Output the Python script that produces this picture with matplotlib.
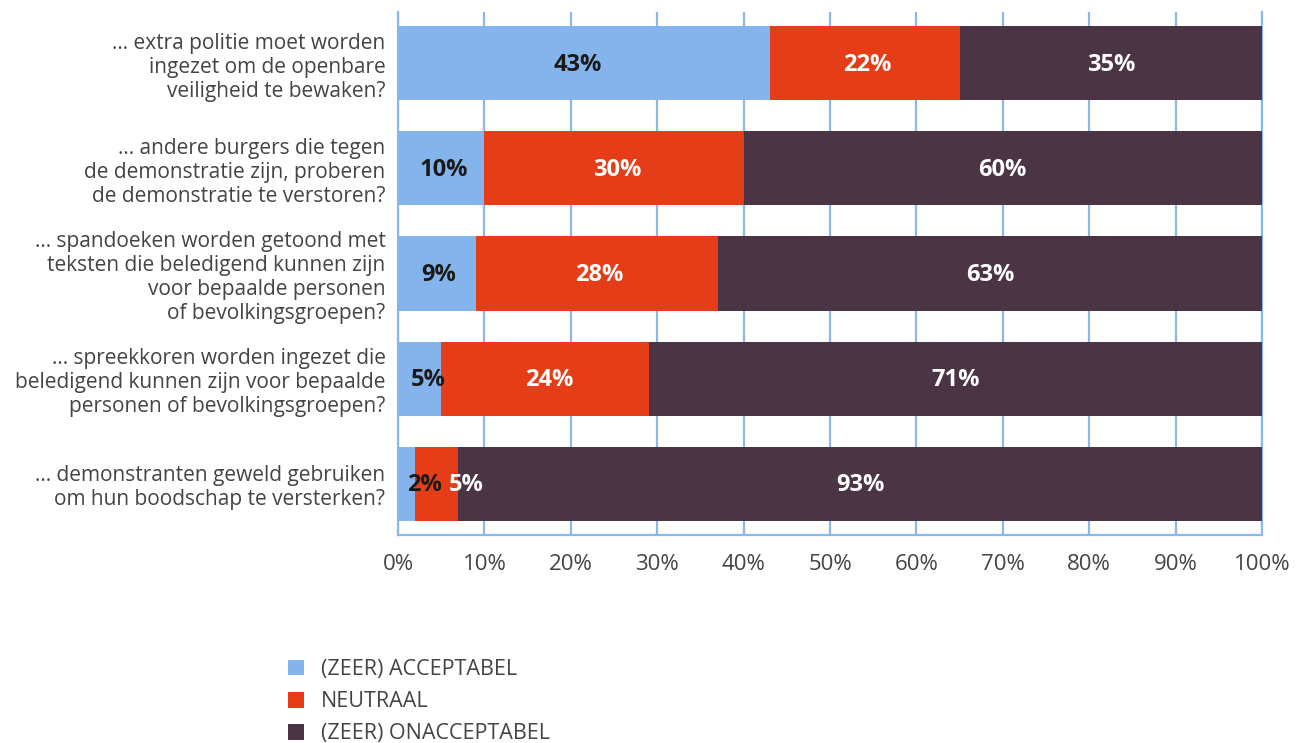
import matplotlib
matplotlib.use("Agg")
import matplotlib.pyplot as plt
import numpy as np

plt.rcParams['font.family'] = ['Open Sans', 'DejaVu Sans']

# --- data ---
questions = [
    "... extra politie moet worden\ningezet om de openbare\nveiligheid te bewaken?",
    "... andere burgers die tegen\nde demonstratie zijn, proberen\nde demonstratie te verstoren?",
    "... spandoeken worden getoond met\nteksten die beledigend kunnen zijn\nvoor bepaalde personen\nof bevolkingsgroepen?",
    "... spreekkoren worden ingezet die\nbeledigend kunnen zijn voor bepaalde\npersonen of bevolkingsgroepen?",
    "... demonstranten geweld gebruiken\nom hun boodschap te versterken?",
]
series_names = ["(ZEER) ACCEPTABEL", "NEUTRAAL", "(ZEER) ONACCEPTABEL"]
acceptabel = [43, 10, 9, 5, 2]
neutraal = [22, 30, 28, 24, 5]
onacceptabel = [35, 60, 63, 71, 93]
tick_labels = ["0%", "10%", "20%", "30%", "40%", "50%", "60%", "70%", "80%", "90%", "100%"]

colors = ["#85b4ec", "#e43d18", "#4b3544"]
text_colors = ["#1a1a1a", "white", "white"]
grid_color = "#8ab8ee"

# small horizontal nudges (points) for the value labels, per series/row
nudges = [
    [-4, 2, 1, 6, 13],
    [2, 2, 2, 3, 21],
    [0, 0, 0, 0, 0],
]

fig = plt.figure(figsize=(13.04, 7.43), dpi=100)
ax = fig.add_axes([398 / 1304, 1 - 535 / 743, 864 / 1304, 523 / 743])

y = np.arange(len(questions))
series = [acceptabel, neutraal, onacceptabel]
left = np.zeros(len(questions))
for s, (vals, name, col) in enumerate(zip(series, series_names, colors)):
    vals = np.array(vals, dtype=float)
    ax.barh(y, vals, left=left, height=0.705, color=col, label=name, zorder=3)
    for i, v in enumerate(vals):
        ax.annotate(f"{int(v)}%", xy=(left[i] + v / 2, y[i]), xytext=(nudges[s][i], -1),
                    textcoords="offset points", ha="center", va="center",
                    fontsize=17, fontweight="bold", color=text_colors[s], zorder=4)
    left += vals

ax.set_xlim(0, 100)
ax.set_ylim(len(questions) - 0.51, -0.49)
ax.set_xticks(np.arange(0, 101, 10))
ax.set_xticklabels(tick_labels, fontsize=16, color="#444444")
ax.set_yticks(y)
ax.set_yticklabels(questions, fontsize=15, color="#444444", linespacing=1.2)
ax.tick_params(axis="both", length=0)
ax.tick_params(axis="x", pad=14)
ax.tick_params(axis="y", pad=9)
ax.xaxis.grid(True, color=grid_color, linewidth=1.6, zorder=0)
ax.set_axisbelow(True)
for side in ["left", "right", "bottom"]:
    ax.spines[side].set_color(grid_color)
    ax.spines[side].set_linewidth(1.6)
ax.spines["top"].set_visible(False)

fig.legend(loc="upper left", bbox_to_anchor=(288 / 1304, 1 - 659 / 743), frameon=False,
           fontsize=15.5, handlelength=0.75, handleheight=0.75, handletextpad=0.8,
           labelspacing=0.52, borderpad=0, borderaxespad=0, labelcolor="#444444")

fig.savefig("out.png", dpi=100)
